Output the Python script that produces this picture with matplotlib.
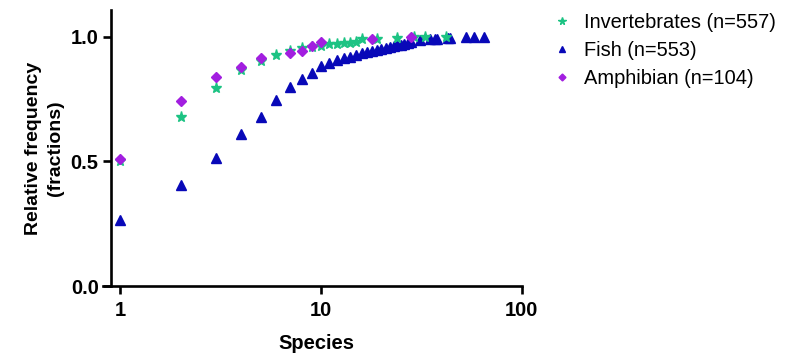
import matplotlib
matplotlib.use("Agg")
import matplotlib.pyplot as plt
from matplotlib.ticker import FixedLocator, NullLocator

plt.rcParams["font.family"] = ["Liberation Sans", "DejaVu Sans"]

# Invertebrates (stars)
inv_x = [1, 2, 3, 4, 5, 6, 7, 8, 9, 10, 11, 12, 13, 14, 15, 16, 19, 24, 29, 33, 42]
inv_y = [0.50, 0.68, 0.795, 0.865, 0.905, 0.928, 0.942, 0.955, 0.96, 0.965, 0.97, 0.972,
         0.975, 0.977, 0.98, 0.99, 0.992, 0.996, 0.998, 1.0, 1.0]

# Fish (triangles)
fish_x = [1, 2, 3, 4, 5, 6, 7, 8, 9, 10, 11, 12, 13, 14, 15, 16, 17, 18, 19, 20,
          21, 22, 23, 24, 25, 26, 27, 28, 31, 35, 37, 38, 43, 44, 53, 58, 65]
fish_y = [0.265, 0.405, 0.512, 0.612, 0.678, 0.747, 0.80, 0.83, 0.855, 0.882, 0.895,
          0.907, 0.914, 0.921, 0.928, 0.935, 0.939, 0.944, 0.948, 0.952, 0.956, 0.961,
          0.964, 0.967, 0.969, 0.972, 0.975, 0.978, 0.988, 0.99, 0.992, 0.993, 0.996,
          0.997, 1.0, 1.0, 1.0]

# Amphibian (diamonds)
amp_x = [1, 2, 3, 4, 5, 7, 8, 9, 10, 18, 28]
amp_y = [0.51, 0.743, 0.839, 0.877, 0.914, 0.935, 0.944, 0.965, 0.981, 0.992, 1.0]

labels = ["Invertebrates (n=557)", "Fish (n=553)", "Amphibian (n=104)"]

fig = plt.figure(figsize=(7.94, 3.54), dpi=100)
ax = fig.add_axes([0.140, 0.192, 0.517, 0.780])

ax.plot(inv_x, inv_y, linestyle="none", marker="*", ms=8, color="#1cc383",
        mec="#1cc383", label=labels[0], zorder=3)
ax.plot(fish_x, fish_y, linestyle="none", marker="^", ms=6.5, color="#0808b8",
        mec="#0808b8", label=labels[1], zorder=2)
ax.plot(amp_x, amp_y, linestyle="none", marker="D", ms=5, color="#a21ee0",
        mec="#a21ee0", label=labels[2], zorder=4)

ax.set_xscale("log")
ax.set_xlim(0.9, 100)
ax.set_ylim(0, 1.108)
ax.xaxis.set_major_locator(FixedLocator([1, 10, 100]))
ax.xaxis.set_minor_locator(NullLocator())
ax.set_xticklabels(["1", "10", "100"])
ax.set_yticks([0.0, 0.5, 1.0])
ax.set_yticklabels(["0.0", "0.5", "1.0"])

for s in ["top", "right"]:
    ax.spines[s].set_visible(False)
for s in ["left", "bottom"]:
    ax.spines[s].set_linewidth(1.9)
# x axis line runs a little past the y axis, as in the original
ax.spines["bottom"].set_bounds(0.815, 100)
ax.tick_params(width=1.9, length=6, labelsize=14.5)
ax.tick_params(axis="x", pad=5)
ax.tick_params(axis="y", pad=3)
for t in ax.get_xticklabels() + ax.get_yticklabels():
    t.set_fontweight("bold")

ax.set_xlabel("Species", fontsize=14.5, fontweight="bold", labelpad=10)
ax.set_ylabel("Relative frequency\n(fractions)", fontsize=14, fontweight="bold",
              labelpad=4.5, linespacing=1.4)

ax.legend(loc="upper left", bbox_to_anchor=(1.025, 1.055), frameon=False, fontsize=14.4,
          markerscale=0.7, handletextpad=0.5, labelspacing=0.46, handlelength=1.2)

fig.savefig("out.png", dpi=100)
